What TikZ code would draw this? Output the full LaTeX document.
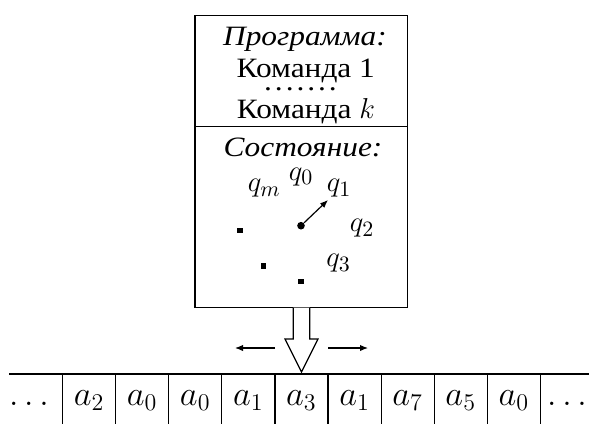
\documentclass[tikz,border=0pt]{standalone}
\usepackage[no-math]{fontspec}
\setmainfont[FakeStretch=1.12]{Liberation Serif}
\usetikzlibrary{arrows.meta}
\newcommand\mydot{\makebox[5.4pt]{.}}
\tikzset{
  box/.style={draw, line width=0.6pt, minimum width=106.35pt, inner sep=0pt},
  lbl/.style={anchor=base, inner sep=0pt, font=\fontsize{14}{16}\selectfont},
  qlbl/.style={anchor=base west, inner sep=0pt, font=\fontsize{15}{17}\selectfont},
  tlbl/.style={anchor=base, inner sep=0pt, font=\fontsize{17}{19}\selectfont},
  thin/.style={line width=0.6pt},
  arr/.style={line width=0.6pt, -{Latex[length=4pt,width=3.2pt]}},
  sq/.style={fill, inner sep=0pt, minimum size=2.6pt},
}
\begin{document}
\begin{tikzpicture}[x=0.5pt,y=-0.5pt]
\useasboundingbox (0,0) rectangle (589,424);
% head
\node[box, minimum height=55.5pt] (prog) at (301.35,71.2) {};
\node[box, minimum height=90.5pt] (state) at (301.35,217.2) {};
\node[lbl] (t1) at (305,45) {\itshape Программа:};
\node[lbl, text depth=0pt] (t2) at (305.8,77.3) {Команда 1};
\node[lbl, text height=1.5pt] (t3) at (300.5,90.7) {\mydot\mydot\mydot\mydot\mydot\mydot\mydot};
\node[lbl] (t4) at (306,118.3) {Команда $k$};
\node[lbl, text depth=0pt] (t5) at (303,156) {\itshape Состояние:};
% states
\node[qlbl] (q0) at (288.5,180) {$q_0$};
\node[qlbl] (qm) at (247.5,191.7) {$q_m$};
\node[qlbl] (q1) at (326.5,191.7) {$q_1$};
\node[qlbl] (q2) at (349.5,231.7) {$q_2$};
\node[qlbl] (q3) at (326,266.7) {$q_3$};
\node[circle, fill, inner sep=0pt, minimum size=3.8pt] (dot) at (301,225.7) {};
\coordinate (pt) at (328,200);
\draw[arr] (dot) -- (pt);
\node[sq] (s1) at (240,230.7) {};
\node[sq] (s2) at (263.3,266) {};
\node[sq] (s3) at (301,281.7) {};
% hollow arrow
\draw[thin, fill=white] (293.2,307.7) -- (293.2,339) -- (285,339) -- (301.5,372) -- (318,339) -- (309.8,339) -- (309.8,307.7);
% side arrows
\coordinate (la0) at (275,348); \coordinate (la1) at (235,348);
\coordinate (ra0) at (328,348); \coordinate (ra1) at (368,348);
\draw[arr] (la0) -- (la1);
\draw[arr] (ra0) -- (ra1);
% tape
\coordinate (tl) at (9,374); \coordinate (tr) at (589,374);
\draw[thin] (tl) -- (tr);
\foreach \k in {0,...,9} {
  \draw[thin] ({62.5+53.1*\k},374) -- ({62.5+53.1*\k},424);
}
\node[tlbl] (cl) at (29,405) {$\dots$};
\node[tlbl] (cr) at (567,405) {$\dots$};
\foreach \v [count=\i from 0] in {2,0,0,1,3,1,7,5,0} {
  \node[tlbl] (c\i) at ({62.5+53.1*(\i+0.5)},405) {$a_{\v}$};
}
\end{tikzpicture}
\end{document}
